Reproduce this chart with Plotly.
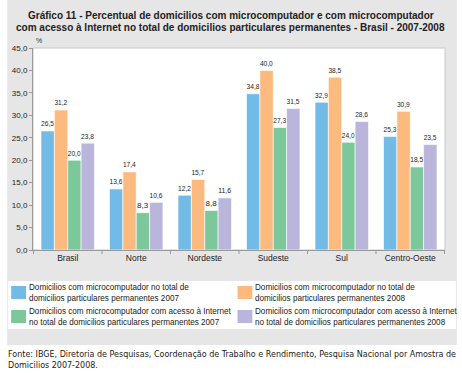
import plotly.graph_objects as go

categories = ["Brasil", "Norte", "Nordeste", "Sudeste", "Sul", "Centro-Oeste"]
micro_2007 = [26.5, 13.6, 12.2, 34.8, 32.9, 25.3]
micro_2008 = [31.2, 17.4, 15.7, 40.0, 38.5, 30.9]
internet_2007 = [20.0, 8.3, 8.8, 27.3, 24.0, 18.5]
internet_2008 = [23.8, 10.6, 11.6, 31.5, 28.6, 23.5]
series_names = [
    "Domicilios com microcomputador no total de<br>domicilios particulares permanentes 2007",
    "Domicilios com microcomputador no total de<br>domicilios particulares permanentes 2008",
    "Domicilios com microcomputador com acesso à Internet<br>no total de domicilios particulares permanentes 2007",
    "Domicilios com microcomputador com acesso à Internet<br>no total de domicilios particulares permanentes 2008",
]
colors = ["#72BBE7", "#FDBA7E", "#7DC89A", "#B9B5DB"]
tick_vals = [0, 5, 10, 15, 20, 25, 30, 35, 40, 45]
tick_text = ["0,0", "5,0", "10,0", "15,0", "20,0", "25,0", "30,0", "35,0", "40,0", "45,0"]

W, H = 462, 373
L, R, T, B = 30, 17, 48, 123
PW, PH = W - L - R, H - T - B

def px(x):
    return (x - L) / PW

def py(y):
    return (H - B - y) / PH

FONT = "Liberation Sans, Arial, sans-serif"

fig = go.Figure()
all_vals = [micro_2007, micro_2008, internet_2007, internet_2008]
for name, vals, col in zip(series_names, all_vals, colors):
    fig.add_trace(go.Bar(
        x=categories, y=vals, name=name,
        marker=dict(color=col, line=dict(color="rgba(255,255,255,0.6)", width=1)),
        text=[f"{v:.1f}".replace(".", ",") for v in vals],
        textposition="outside", cliponaxis=False,
        textfont=dict(family=FONT, size=8, color="#222222"),
        showlegend=False,
    ))

shapes = [
    dict(type="rect", xref="paper", yref="paper", x0=px(4), x1=px(457), y0=py(345), y1=py(0),
         fillcolor="#E6E6E6", line=dict(width=0), layer="below"),
    dict(type="rect", xref="paper", yref="paper", x0=0, x1=1, y0=0, y1=1,
         fillcolor="white", line=dict(color="#C8C8C8", width=1), layer="below"),
    dict(type="rect", xref="paper", yref="paper", x0=px(5), x1=px(456), y0=py(329), y1=py(281),
         fillcolor="white", line=dict(width=0), layer="below"),
]
for i in range(7):
    shapes.append(dict(type="line", xref="x", yref="paper", x0=i - 0.5, x1=i - 0.5,
                       y0=py(250), y1=py(254), line=dict(color="#999999", width=1)))

annotations = [
    dict(text="<b>Gráfico 11 - Percentual de domicilios com microcomputador e com microcomputador</b>",
         xref="paper", yref="paper", x=px(229), y=py(15), xanchor="center", yanchor="middle",
         showarrow=False, font=dict(family=FONT, size=10, color="#222222")),
    dict(text="<b>com acesso à Internet no total de domicilios particulares permanentes - Brasil - 2007-2008</b>",
         xref="paper", yref="paper", x=px(229), y=py(27.5), xanchor="center", yanchor="middle",
         showarrow=False, font=dict(family=FONT, size=10, color="#222222")),
    dict(text="%", xref="paper", yref="paper", x=px(36), y=py(41), xanchor="center", yanchor="middle",
         showarrow=False, font=dict(family=FONT, size=7, color="#333333")),
    dict(text="Fonte: IBGE, Diretoria de Pesquisas, Coordenação de Trabalho e Rendimento, Pesquisa Nacional por Amostra de",
         xref="paper", yref="paper", x=px(3), y=py(354), xanchor="left", yanchor="middle", align="left",
         showarrow=False, font=dict(family="DejaVu Sans, sans-serif", size=8.0, color="#222222")),
    dict(text="Domicilios 2007-2008.",
         xref="paper", yref="paper", x=px(3), y=py(365), xanchor="left", yanchor="middle", align="left",
         showarrow=False, font=dict(family="DejaVu Sans, sans-serif", size=8.0, color="#222222")),
]

leg_pos = [(8, 286), (236, 286), (8, 310), (236, 310)]
for (lx, ly), name, col in zip(leg_pos, series_names, colors):
    shapes.append(dict(type="rect", xref="paper", yref="paper", x0=px(lx), x1=px(lx + 15),
                       y0=py(ly + 13), y1=py(ly), fillcolor=col, line=dict(width=0)))
    annotations.append(dict(text=name, xref="paper", yref="paper", x=px(lx + 16), y=py(ly + 6.5),
                            xanchor="left", yanchor="middle", align="left", showarrow=False,
                            font=dict(family=FONT, size=8.15, color="#222222")))

fig.update_layout(
    width=W, height=H,
    margin=dict(l=L, r=R, t=T, b=B, pad=0),
    paper_bgcolor="white", plot_bgcolor="rgba(0,0,0,0)",
    barmode="group", bargap=0.22, bargroupgap=0.0,
    shapes=shapes, annotations=annotations,
    xaxis=dict(showgrid=False, showline=True, linecolor="#999999", linewidth=1,
               ticks="", tickfont=dict(family=FONT, size=8.5, color="#222222"), fixedrange=True),
    yaxis=dict(range=[0, 45], tickvals=tick_vals, ticktext=tick_text, showgrid=False,
               showline=True, linecolor="#999999", ticks="outside", ticklen=3, tickcolor="#999999",
               tickfont=dict(family=FONT, size=8, color="#222222"), zeroline=False, fixedrange=True),
)

fig.write_html("out.html", config={"displayModeBar": False},
               post_script="document.body.style.margin='0';")
